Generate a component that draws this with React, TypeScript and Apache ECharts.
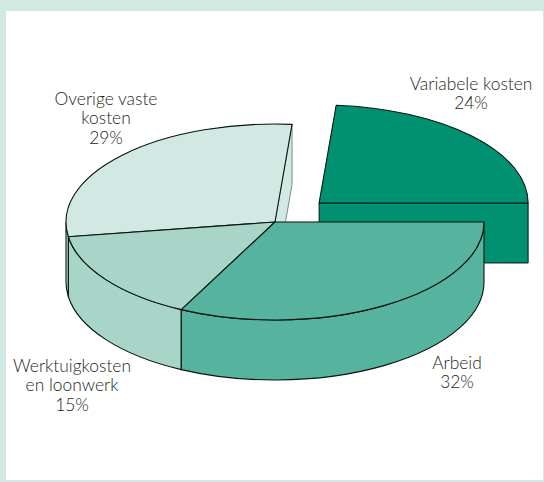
import React, { useEffect, useRef } from "react";
import * as echarts from "echarts";

// Draw order follows the picture: the exploded slice first, Arbeid last.
const categories = [
  ["Variabele kosten"],
  ["Overige vaste", "kosten"],
  ["Werktuigkosten", "en loonwerk"],
  ["Arbeid"],
];
// Shares; they round to the printed 24, 29, 15, 32.
const shares = [23.7, 28.7, 15.2, 32.4];
const explodedSlices = [1, 0, 0, 0];
const sliceColors = ["#009270", "#d2e8e2", "#a9d5c9", "#56b39d"];
const faceStrokes = ["#06140f", "#7f8c88", "#06140f", "#06140f"];

const CX = 275;
const CY = 222;
const RX = 209;
const RY = 98;
const DEPTH = 60;
const EXPLODE = 60;
const FONT = "Lato";
const LABEL_CENTERS: [number, number][] = [
  [471, 83],
  [106, 98],
  [72, 365],
  [457, 362],
];
const LINE_STEP = 19.5;
const INK = "#06140f";

const rad = (d: number) => (d * Math.PI) / 180;

function renderSlice(params: any, api: any) {
  const i = params.dataIndex;
  const share = api.value(0);
  const before = shares.slice(0, i).reduce((a, b) => a + b, 0);
  const total = shares.reduce((a, b) => a + b, 0);
  const a0 = (before / total) * 360;
  const a1 = a0 + (share / total) * 360;
  const mid = (a0 + a1) / 2;
  const off = explodedSlices[i] ? EXPLODE : 0;
  const cx = CX + off * Math.cos(rad(mid));
  const cy = CY - (off * Math.sin(rad(mid)) * RY) / RX;
  const pt = (a: number, dy = 0) =>
    `${(cx + RX * Math.cos(rad(a))).toFixed(2)} ${(cy + dy - RY * Math.sin(rad(a))).toFixed(2)}`;
  const arc = (from: number, to: number, dy = 0) =>
    `A ${RX} ${RY} 0 ${Math.abs(to - from) > 180 ? 1 : 0} ${to > from ? 0 : 1} ${pt(to, dy)}`;

  const children: any[] = [];
  const fill = sliceColors[i];

  // Cut face at the start angle, when it turns towards the viewer.
  if (Math.sin(rad(a0 - 90)) < 0) {
    const d = `M ${cx} ${cy} L ${pt(a0)} L ${pt(a0, DEPTH)} L ${cx} ${cy + DEPTH} Z`;
    children.push({
      type: "path",
      shape: { pathData: d },
      style: { fill, stroke: faceStrokes[i], lineWidth: 1 },
    });
  }
  // Outer wall: only the part on the near half of the ellipse.
  const w0 = Math.max(a0, 180);
  const w1 = Math.min(a1, 360);
  if (w1 > w0) {
    const d = `M ${pt(w0)} ${arc(w0, w1)} L ${pt(w1, DEPTH)} ${arc(w1, w0, DEPTH)} Z`;
    children.push({
      type: "path",
      shape: { pathData: d },
      style: { fill, stroke: INK, lineWidth: 1.1 },
    });
  }
  // Top surface.
  children.push({
    type: "path",
    shape: { pathData: `M ${cx} ${cy} L ${pt(a0)} ${arc(a0, a1)} Z` },
    style: { fill, stroke: INK, lineWidth: 1.1, lineJoin: "round" },
  });
  // Label.
  const pct = Math.round(share);
  const lines = [...categories[i], `${pct}%`];
  lines.forEach((text, n) => {
    children.push({
      type: "text",
      x: LABEL_CENTERS[i][0],
      y: LABEL_CENTERS[i][1] + n * LINE_STEP,
      z2: 10,
      style: {
        text,
        fill: "#231f20",
        font: `300 17.4px ${FONT}`,
        align: "center",
        verticalAlign: "middle",
      },
    });
  });
  return { type: "group", children };
}

export default function App() {
  const ref = useRef<HTMLDivElement>(null);
  useEffect(() => {
    const chart = echarts.init(ref.current!, undefined, { renderer: "svg" });
    chart.setOption({
      animation: false,
      backgroundColor: "transparent",
      series: [
        {
          type: "custom",
          coordinateSystem: "none",
          silent: true,
          clip: false,
          data: shares.map((v) => [v]),
          renderItem: renderSlice,
        },
      ],
    });
    return () => chart.dispose();
  }, []);
  return (
    <div style={{ position: "fixed", left: 0, top: 0, width: 544, height: 482, background: "#d2e8e2", overflow: "hidden" }}>
      <div style={{ position: "absolute", left: 6, top: 11, width: 537, height: 469, background: "#ffffff" }} />
      <div ref={ref} style={{ position: "absolute", left: 0, top: 0, width: 544, height: 482 }} />
    </div>
  );
}
